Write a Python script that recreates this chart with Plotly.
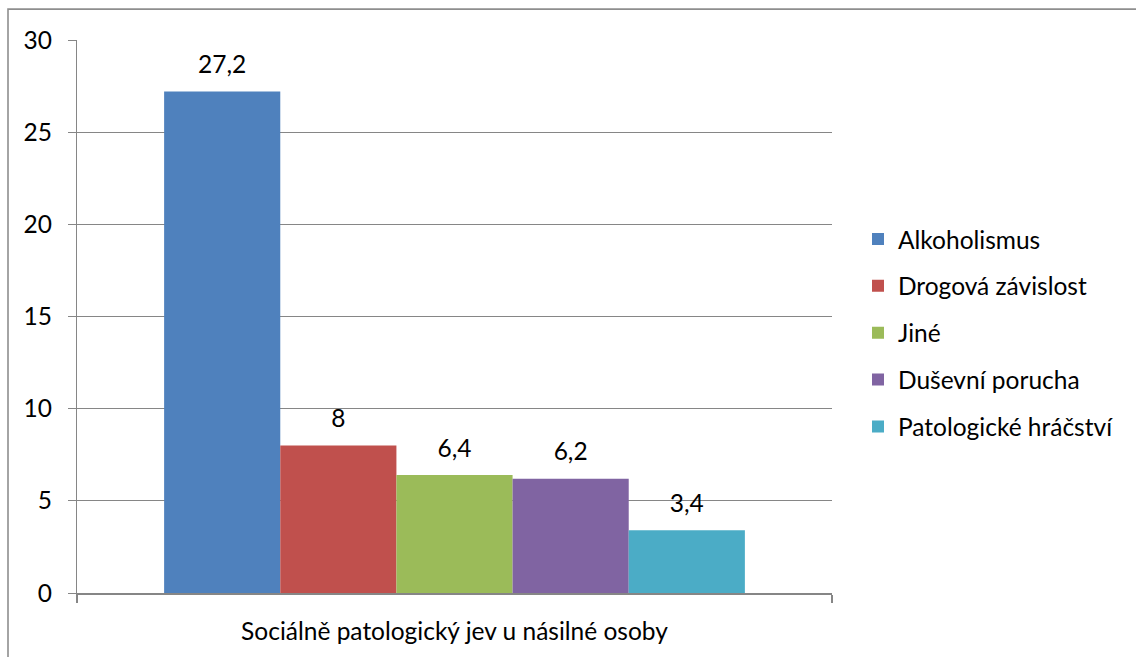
import plotly.graph_objects as go

# Sociální patologie u násilné osoby (%)
category = ["Sociálně patologický jev u násilné osoby"]
series_names = ["Alkoholismus", "Drogová závislost", "Jiné", "Duševní porucha", "Patologické hráčství"]
series_values = [27.2, 8, 6.4, 6.2, 3.4]
series_colors = ["#4F81BD", "#C0504D", "#9BBB59", "#8064A2", "#4BACC6"]
y_ticks = [0, 5, 10, 15, 20, 25, 30]

FONT = "Lato"
FS = 24.5
GRID = "#868686"
GAP = 1.5 / 6.5
PLOT_W = 755
PLOT_H = 555
M_L, M_T = 77, 40


def fmt(v):
    return f"{v:g}".replace(".", ",")


fig = go.Figure()
for name, val, col in zip(series_names, series_values, series_colors):
    fig.add_trace(go.Bar(
        x=category,
        y=[val],
        name=name,
        legendgroup=name,
        marker=dict(color=col, line=dict(width=0)),
    ))

# value labels: invisible markers on the bar tops, text placed above them
for name, val in zip(series_names, series_values):
    fig.add_trace(go.Scatter(
        x=category,
        y=[val],
        mode="markers+text",
        text=[fmt(val)],
        textposition="top center",
        textfont=dict(family=FONT, size=FS, color="#000000"),
        marker=dict(size=18, opacity=0),
        showlegend=False,
        hoverinfo="skip",
        cliponaxis=False,
        legendgroup=name,
    ))

fig.update_layout(
    width=1136,
    height=657,
    margin=dict(l=M_L, r=1136 - M_L - PLOT_W, t=M_T, b=657 - M_T - PLOT_H),
    paper_bgcolor="white",
    plot_bgcolor="white",
    barmode="group",
    bargap=GAP,
    bargroupgap=0,
    scattermode="group",
    scattergap=GAP,
    font=dict(family=FONT, size=FS, color="#000000"),
    legend=dict(
        x=(858 - M_L) / PLOT_W, xanchor="left",
        y=0.47, yanchor="middle",
        font=dict(family=FONT, size=FS, color="#000000"),
        tracegroupgap=12,
        itemwidth=30,
        bgcolor="rgba(0,0,0,0)",
    ),
    xaxis=dict(
        type="category",
        showline=True, linecolor=GRID, linewidth=1.5,
        ticks="outside", tickson="boundaries", ticklen=8, tickcolor=GRID, tickwidth=1.5,
        ticklabelstandoff=16,
        showgrid=False,
        tickfont=dict(family=FONT, size=FS, color="#000000"),
    ),
    yaxis=dict(
        range=[0, 30],
        tickvals=y_ticks,
        showline=True, linecolor=GRID, linewidth=1.3,
        ticks="outside", ticklen=8, tickcolor=GRID, tickwidth=1.3,
        ticklabelstandoff=11,
        showgrid=True, gridcolor=GRID, gridwidth=1.3,
        zeroline=False,
        tickfont=dict(family=FONT, size=FS, color="#000000"),
    ),
    shapes=[dict(
        type="rect", xref="paper", yref="paper",
        x0=(8 - M_L) / PLOT_W, x1=1.6,
        y0=-0.3, y1=(M_T + PLOT_H - 9) / PLOT_H,
        line=dict(color="#8e8e8e", width=1.6),
        fillcolor="rgba(0,0,0,0)",
        layer="below",
    )],
)

fig.write_html("out.html")
